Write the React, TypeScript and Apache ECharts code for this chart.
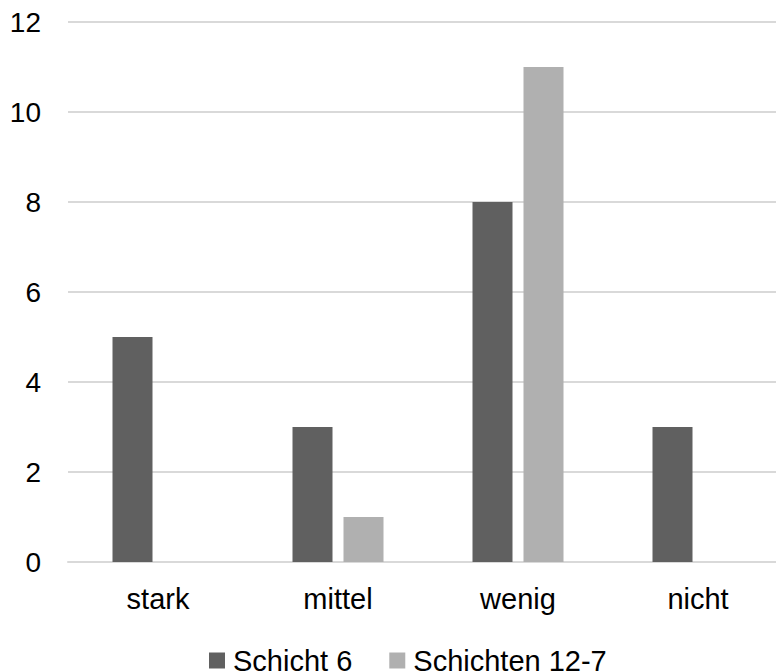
import React, { useEffect, useRef } from "react";
import * as echarts from "echarts";

const categories = ["stark", "mittel", "wenig", "nicht"];
const schicht6 = [5, 3, 8, 3];
const schichten127 = [null, 1, 11, null];
const seriesNames = ["Schicht 6", "Schichten 12-7"];

const FONT = "'Liberation Sans', Arial, sans-serif";

export default function App() {
  const ref = useRef<HTMLDivElement>(null);
  useEffect(() => {
    if (!ref.current) return;
    const chart = echarts.init(ref.current, undefined, { renderer: "svg" });
    chart.setOption({
      animation: false,
      backgroundColor: "#ffffff",
      grid: { left: 68, right: 12, top: 22, bottom: 110, containLabel: false },
      legend: {
        data: seriesNames,
        left: 204,
        top: 641,
        itemWidth: 16,
        itemHeight: 16,
        itemGap: 37,
        icon: "rect",
        textStyle: { fontSize: 29, fontFamily: FONT, color: "#000", padding: [0, 0, 0, 3] },
      },
      xAxis: {
        type: "category",
        data: categories,
        axisTick: { show: false },
        axisLine: { show: true, lineStyle: { color: "#d9d9d9", width: 2 } },
        axisLabel: { fontSize: 29, fontFamily: FONT, color: "#000", margin: 22 },
      },
      yAxis: {
        type: "value",
        min: 0,
        max: 12,
        interval: 2,
        axisLine: { show: false },
        axisTick: { show: false },
        splitLine: { lineStyle: { color: "#d9d9d9", width: 2 } },
        axisLabel: { fontSize: 28, fontFamily: FONT, color: "#000", margin: 27 },
      },
      series: [
        {
          name: seriesNames[0],
          type: "bar",
          data: schicht6,
          barWidth: 40,
          barGap: "27.5%",
          itemStyle: { color: "#606060" },
        },
        {
          name: seriesNames[1],
          type: "bar",
          data: schichten127,
          barWidth: 40,
          barGap: "27.5%",
          itemStyle: { color: "#b0b0b0" },
        },
      ],
    });
    return () => chart.dispose();
  }, []);
  return (
    <div
      style={{ position: "fixed", left: 0, top: 0, width: 776, height: 672, overflow: "hidden" }}
    >
      <div ref={ref} style={{ width: 800, height: 672 }} />
    </div>
  );
}
